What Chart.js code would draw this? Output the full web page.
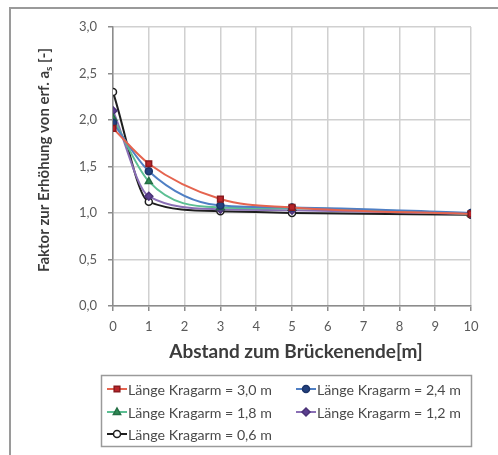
<!DOCTYPE html>
<html>
<head>
<meta charset="utf-8">
<script src="https://cdn.jsdelivr.net/npm/chart.js@4.4.1/dist/chart.umd.min.js"></script>
<style>
  html, body { margin: 0; padding: 0; background: #ffffff; }
  #wrap { width: 498px; height: 455px; }
</style>
</head>
<body>
<div id="wrap"><canvas id="chart" width="498" height="455"></canvas></div>
<script>
const distances = [0, 1, 3, 5, 10];
const xTicks = [0, 1, 2, 3, 4, 5, 6, 7, 8, 9, 10];
const yTicks = [0, 0.5, 1, 1.5, 2, 2.5, 3];

const seriesNames = [
  "Länge Kragarm = 3,0 m",
  "Länge Kragarm = 2,4 m",
  "Länge Kragarm = 1,8 m",
  "Länge Kragarm = 1,2 m",
  "Länge Kragarm = 0,6 m",
];
const kragarm30 = [1.91, 1.53, 1.15, 1.06, 0.99];
const kragarm24 = [1.97, 1.45, 1.08, 1.06, 1.0];
const kragarm18 = [2.02, 1.34, 1.06, 1.05, 0.99];
const kragarm12 = [2.1, 1.18, 1.04, 1.03, 0.99];
const kragarm06 = [2.3, 1.12, 1.02, 1.0, 0.98];

const fontName = "Lato, 'Open Sans', sans-serif";
const gridColor = "#d0d0d0";
const axisColor = "#8c8c8c";
const tickText = "#5a5a5a";

function makeSet(label, values, line, fill, edge, style, radius) {
  return {
    label: label,
    data: distances.map((d, i) => ({ x: d, y: values[i] })),
    borderColor: line,
    borderWidth: 2,
    backgroundColor: fill,
    pointBackgroundColor: fill,
    pointBorderColor: edge,
    pointBorderWidth: 1.5,
    pointStyle: style,
    pointRadius: radius,
    cubicInterpolationMode: "monotone",
  };
}

const datasets = [
  makeSet(seriesNames[0], kragarm30, "#e5644f", "#b8242a", "#8a1a1e", "rect", 4),
  makeSet(seriesNames[1], kragarm24, "#4f7fc4", "#23417e", "#1c3468", "circle", 3.5),
  makeSet(seriesNames[2], kragarm18, "#5cbf93", "#2f8a55", "#246e44", "triangle", 4),
  makeSet(seriesNames[3], kragarm12, "#8a6fb5", "#5b3f8f", "#4a3277", "rectRot", 4),
  makeSet(seriesNames[4], kragarm06, "#1e1e1e", "#ffffff", "#1e1e1e", "circle", 3.5),
];

function drawMarker(ctx, style, x, y, r, fill, edge) {
  ctx.save();
  ctx.fillStyle = fill;
  ctx.strokeStyle = edge;
  ctx.lineWidth = 1.5;
  ctx.beginPath();
  if (style === "rect") {
    const s = r * Math.SQRT2;
    ctx.rect(x - s / 2, y - s / 2, s, s);
  } else if (style === "triangle") {
    ctx.moveTo(x, y - r);
    ctx.lineTo(x + r * 0.9, y + r * 0.6);
    ctx.lineTo(x - r * 0.9, y + r * 0.6);
    ctx.closePath();
  } else if (style === "rectRot") {
    ctx.moveTo(x, y - r);
    ctx.lineTo(x + r, y);
    ctx.lineTo(x, y + r);
    ctx.lineTo(x - r, y);
    ctx.closePath();
  } else {
    ctx.arc(x, y, r, 0, Math.PI * 2);
  }
  ctx.fill();
  ctx.stroke();
  ctx.restore();
}

const decorPlugin = {
  id: "decor",
  afterDraw(chart) {
    const ctx = chart.ctx;
    ctx.save();

    // outer frame
    ctx.strokeStyle = "#9a9a9a";
    ctx.lineWidth = 2;
    ctx.strokeRect(10, 8, 520, 480);

    // y axis title with subscript
    ctx.fillStyle = "#3c3c3c";
    ctx.translate(44, 160);
    ctx.rotate(-Math.PI / 2);
    const main = "Faktor zur Erhöhung von erf. a";
    const sub = "s";
    const tail = " [-]";
    ctx.font = "bold 15px " + fontName;
    const w1 = ctx.measureText(main).width;
    const w3 = ctx.measureText(tail).width;
    ctx.font = "bold 10px " + fontName;
    const w2 = ctx.measureText(sub).width;
    let x0 = -(w1 + w2 + w3) / 2;
    ctx.textBaseline = "middle";
    ctx.textAlign = "left";
    ctx.font = "bold 15px " + fontName;
    ctx.fillText(main, x0, 0);
    ctx.font = "bold 10px " + fontName;
    ctx.fillText(sub, x0 + w1, 5);
    ctx.font = "bold 15px " + fontName;
    ctx.fillText(tail, x0 + w1 + w2, 0);
    ctx.restore();

    // x axis title
    ctx.save();
    ctx.fillStyle = "#3c3c3c";
    ctx.font = "bold 19px " + fontName;
    ctx.textAlign = "center";
    ctx.textBaseline = "middle";
    ctx.fillText("Abstand zum Brückenende[m]", 296, 352);
    ctx.restore();

    // legend box
    ctx.save();
    ctx.strokeStyle = "#9a9a9a";
    ctx.lineWidth = 1.5;
    ctx.strokeRect(101.5, 375.5, 370, 71);
    const cols = [107, 296];
    const rows = [389, 412, 434];
    ctx.font = "14.2px " + fontName;
    ctx.textBaseline = "middle";
    ctx.textAlign = "left";
    chart.data.datasets.forEach((ds, i) => {
      const lx = cols[i % 2];
      const ly = rows[Math.floor(i / 2)];
      ctx.strokeStyle = ds.borderColor;
      ctx.lineWidth = 2;
      ctx.beginPath();
      ctx.moveTo(lx, ly);
      ctx.lineTo(lx + 20, ly);
      ctx.stroke();
      drawMarker(ctx, ds.pointStyle, lx + 10, ly, ds.pointRadius, ds.pointBackgroundColor, ds.pointBorderColor);
      ctx.fillStyle = "#4a4a4a";
      ctx.fillText(ds.label, lx + 21, ly + 1);
    });
    ctx.restore();
  },
};

new Chart(document.getElementById("chart"), {
  type: "line",
  data: { datasets: datasets },
  options: {
    responsive: false,
    animation: false,
    layout: { padding: { left: 0, top: 27, right: 27, bottom: 0 } },
    plugins: {
      legend: { display: false },
      tooltip: { enabled: false },
    },
    scales: {
      x: {
        type: "linear",
        min: 0,
        max: 10,
        afterBuildTicks: (scale) => { scale.ticks = xTicks.map((v) => ({ value: v })); },
        afterFit: (scale) => { scale.height = 149; },
        ticks: {
          color: tickText,
          font: { family: fontName, size: 13 },
          padding: 8,
          maxRotation: 0,
        },
        grid: { color: gridColor, lineWidth: 1.5, tickLength: 5, tickColor: axisColor },
        border: { color: axisColor, width: 1.5 },
      },
      y: {
        min: 0,
        max: 3,
        afterBuildTicks: (scale) => { scale.ticks = yTicks.map((v) => ({ value: v })); },
        afterFit: (scale) => { scale.width = 113; },
        ticks: {
          color: tickText,
          font: { family: fontName, size: 13 },
          padding: 11,
          callback: (v) => v.toFixed(1).replace(".", ","),
        },
        grid: { color: gridColor, lineWidth: 1.5, tickLength: 5, tickColor: axisColor },
        border: { color: axisColor, width: 1.5 },
      },
    },
  },
  plugins: [decorPlugin],
});
</script>
</body>
</html>
